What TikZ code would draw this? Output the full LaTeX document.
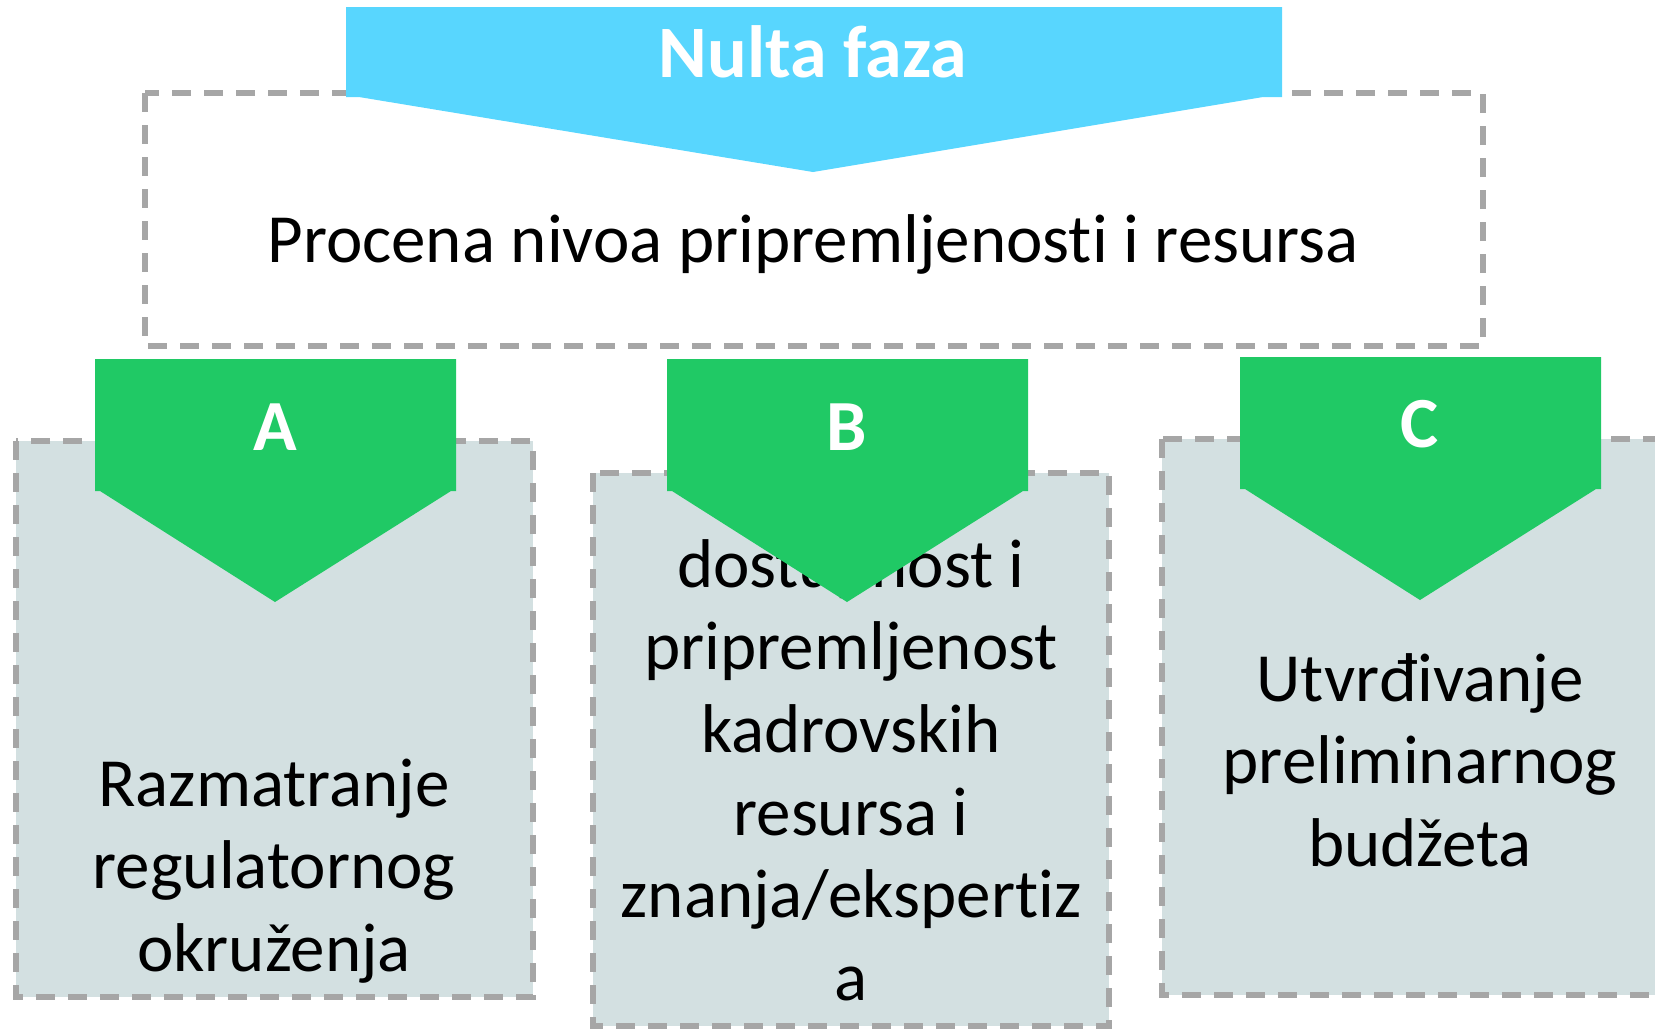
\documentclass[tikz,border=0pt]{standalone}
\usepackage{fontspec}
\setmainfont{Carlito}[Ligatures=NoCommon]
\usetikzlibrary{calc}

\definecolor{fazaplava}{RGB}{88,214,254}
\definecolor{korakzelena}{RGB}{32,201,101}
\definecolor{kutijasiva}{RGB}{211,224,225}
\definecolor{crticasiva}{RGB}{166,166,166}

\tikzset{
  crtkutija/.style={draw=crticasiva, line width=2.6pt, dash pattern=on 9.5pt off 6.5pt},
  tekst/.style={inner sep=0pt, align=center, font=\fontsize{34.5}{41.3}\selectfont},
  oznaka/.style={inner sep=0pt, text=white, font=\fontsize{36}{43}\selectfont\bfseries}
}

\begin{document}
\begin{tikzpicture}[x=0.5pt,y=-0.5pt]

          \useasboundingbox (0,0) rectangle (1655,1029); %全体
          \clip (0,0) rectangle (1655,1029);

          % 上の枠
          \draw[crtkutija] (145,93) rectangle (1483,346); %点線枠
          \fill[fazaplava] (346,7) -- (1282,7) -- (1282,97) -- (1263,97) -- (813,172) -- (359,97) -- (346,97) -- cycle; %矢印
          \node[oznaka, anchor=base, font=\fontsize{37}{44}\selectfont\bfseries] (nulta) at (813,77) {Nulta faza};
          \node[tekst, anchor=base] (procena) at (813,262) {Procena nivoa pripremljenosti i resursa};

          % 下の枠
          \draw[crtkutija, fill=kutijasiva] (16,441) rectangle (533,997); %A枠
          \draw[crtkutija, fill=kutijasiva] (593,473) rectangle (1109,1026); %B枠
          \draw[crtkutija, fill=kutijasiva] (1162,439) rectangle (1720,995); %C枠

          \node[tekst] (tekstA) at (274,871) {Razmatranje\\regulatornog\\okruženja};
          \node[tekst] (tekstB) at (851,770) {dostupnost i\\pripremljenost\\kadrovskih\\resursa i\\znanja/ekspertiz\\a};
          \node[tekst] (tekstC) at (1420,760) {Utvrđivanje\\preliminarnog\\budžeta};

          % 緑の矢印
          \fill[korakzelena] (95,359) -- (456,359) -- (456,491) -- (451,491) -- (275,602) -- (100,491) -- (95,491) -- cycle; %A
          \fill[korakzelena] (667,359) -- (1028,359) -- (1028,491) -- (1023,491) -- (847,602) -- (672,491) -- (667,491) -- cycle; %B
          \fill[korakzelena] (1240,357) -- (1601,357) -- (1601,489) -- (1596,489) -- (1420,600) -- (1245,489) -- (1240,489) -- cycle; %C
          \node[oznaka, anchor=base] (slovoA) at (275,450) {A};
          \node[oznaka, anchor=base] (slovoB) at (847,450) {B};
          \node[oznaka, anchor=base] (slovoC) at (1420,447) {C};

        \end{tikzpicture}
\end{document}
